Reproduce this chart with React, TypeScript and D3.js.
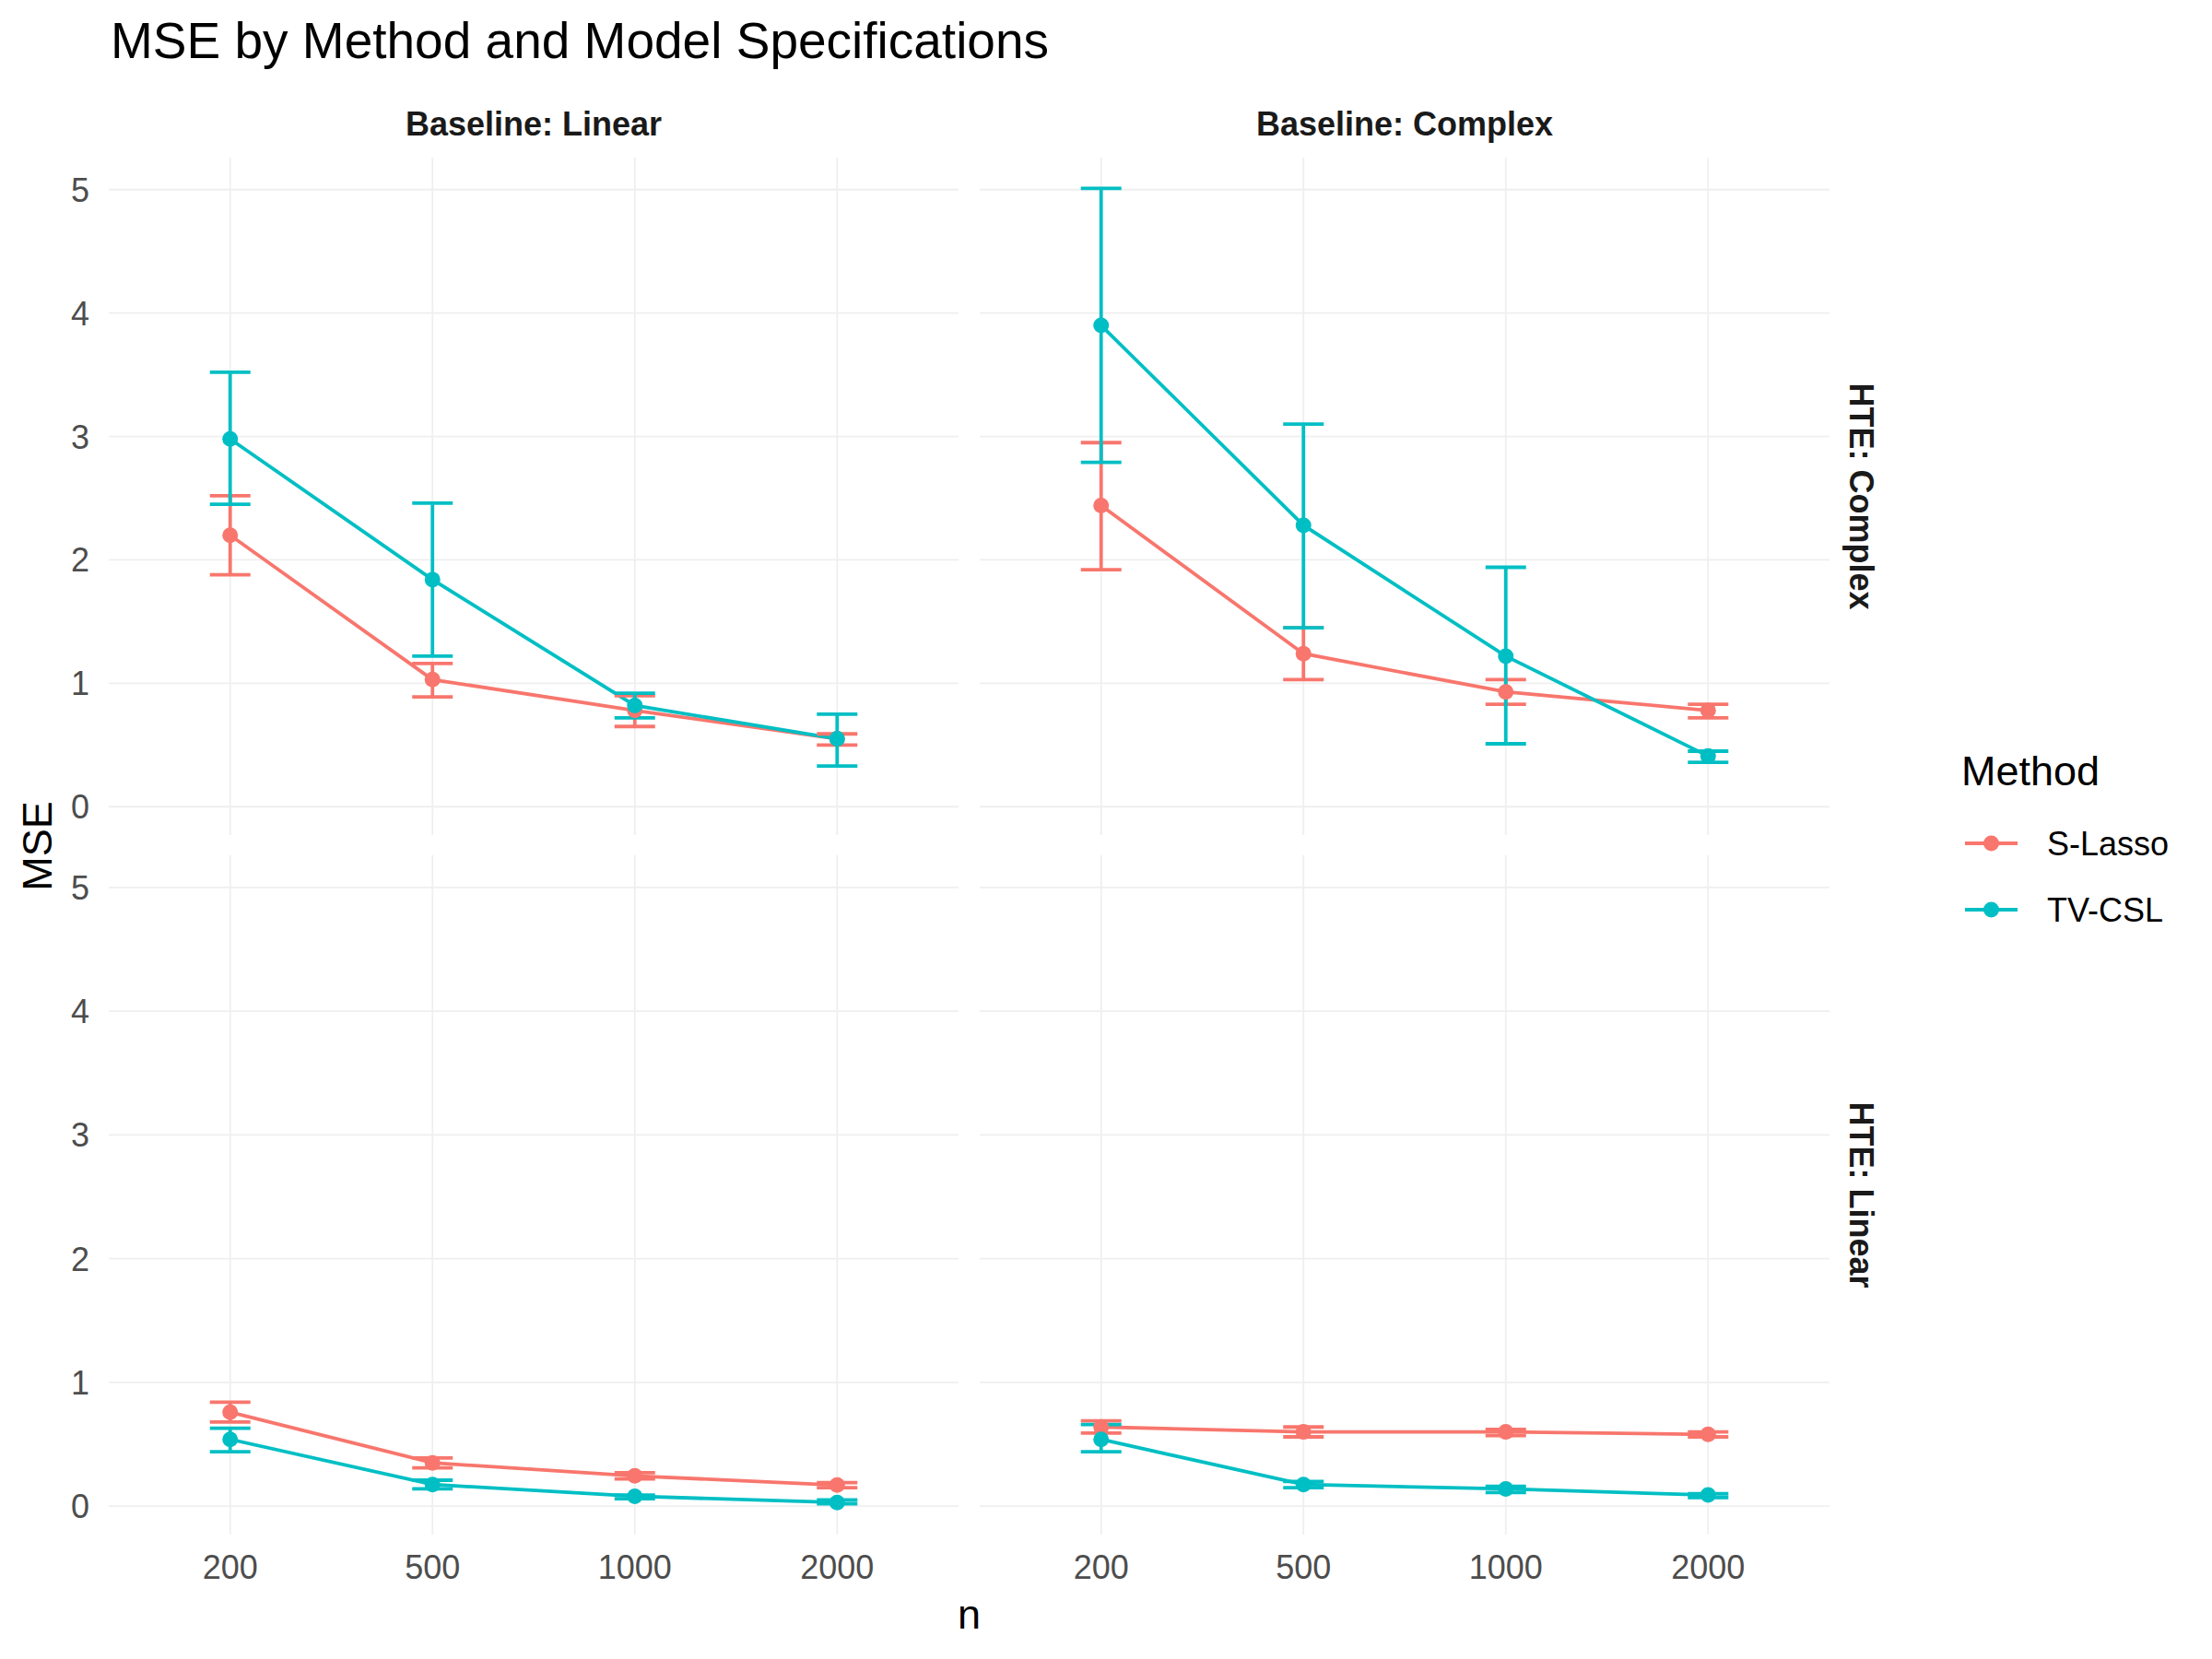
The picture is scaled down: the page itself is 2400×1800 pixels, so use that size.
import React from 'react';
import * as d3 from 'd3';

// facet labels and categories
const nLevels = ['200', '500', '1000', '2000'];
const baselineLabels = ['Baseline: Linear', 'Baseline: Complex'];
const hteLabels = ['HTE: Complex', 'HTE: Linear'];
const methods = ['S-Lasso', 'TV-CSL'];
const methodColors = ['#F8766D', '#00BFC4'];
const yTicks = [0, 1, 2, 3, 4, 5];

// HTE: Complex / Baseline: Linear
const sLassoCL = [2.2, 1.03, 0.78, 0.55];
const sLassoCLLo = [1.88, 0.89, 0.65, 0.5];
const sLassoCLHi = [2.52, 1.16, 0.9, 0.59];
const tvCslCL = [2.98, 1.84, 0.82, 0.55];
const tvCslCLLo = [2.45, 1.22, 0.72, 0.33];
const tvCslCLHi = [3.52, 2.46, 0.92, 0.75];

// HTE: Complex / Baseline: Complex
const sLassoCC = [2.44, 1.24, 0.93, 0.78];
const sLassoCCLo = [1.92, 1.03, 0.83, 0.72];
const sLassoCCHi = [2.95, 1.45, 1.03, 0.83];
const tvCslCC = [3.9, 2.28, 1.22, 0.41];
const tvCslCCLo = [2.79, 1.45, 0.51, 0.36];
const tvCslCCHi = [5.01, 3.1, 1.94, 0.45];

// HTE: Linear / Baseline: Linear
const sLassoLL = [0.76, 0.35, 0.245, 0.17];
const sLassoLLLo = [0.68, 0.31, 0.22, 0.15];
const sLassoLLHi = [0.84, 0.39, 0.27, 0.19];
const tvCslLL = [0.54, 0.175, 0.08, 0.03];
const tvCslLLLo = [0.44, 0.14, 0.06, 0.02];
const tvCslLLHi = [0.63, 0.21, 0.09, 0.05];

// HTE: Linear / Baseline: Complex
const sLassoLC = [0.64, 0.6, 0.6, 0.58];
const sLassoLCLo = [0.59, 0.56, 0.57, 0.56];
const sLassoLCHi = [0.69, 0.64, 0.62, 0.6];
const tvCslLC = [0.54, 0.175, 0.14, 0.09];
const tvCslLCLo = [0.44, 0.15, 0.11, 0.07];
const tvCslLCHi = [0.66, 0.2, 0.16, 0.1];

type Series = { mean: number[]; lo: number[]; hi: number[] };

// panels[row][col][method]
const panels: Series[][][] = [
  [
    [
      { mean: sLassoCL, lo: sLassoCLLo, hi: sLassoCLHi },
      { mean: tvCslCL, lo: tvCslCLLo, hi: tvCslCLHi },
    ],
    [
      { mean: sLassoCC, lo: sLassoCCLo, hi: sLassoCCHi },
      { mean: tvCslCC, lo: tvCslCCLo, hi: tvCslCCHi },
    ],
  ],
  [
    [
      { mean: sLassoLL, lo: sLassoLLLo, hi: sLassoLLHi },
      { mean: tvCslLL, lo: tvCslLLLo, hi: tvCslLLHi },
    ],
    [
      { mean: sLassoLC, lo: sLassoLCLo, hi: sLassoLCHi },
      { mean: tvCslLC, lo: tvCslLCLo, hi: tvCslLCHi },
    ],
  ],
];

const W = 2400;
const H = 1800;
const FONT = '"Liberation Sans", Arial, Helvetica, sans-serif';

const colRanges: [number, number][] = [
  [118, 1040],
  [1063, 1985],
];
const rowRanges: [number, number][] = [
  [171, 906],
  [928, 1665],
];

export default function App() {
  const all = panels.flat(2).flatMap((s) => [...s.lo, ...s.hi]);
  const [ymin, ymax] = d3.extent(all) as [number, number];
  const pad = (ymax - ymin) * 0.05;
  const yDomain: [number, number] = [ymin - pad, ymax + pad];

  const gridColor = '#efefef';
  const capHalf = 22;

  return (
    <svg
      width={W}
      height={H}
      style={{ position: 'absolute', left: 0, top: 0, background: '#fff' }}
      fontFamily={FONT}
    >
      <rect width={W} height={H} fill="#fff" />
      <text x={120} y={63} fontSize={55} fill="#000">
        MSE by Method and Model Specifications
      </text>

      {rowRanges.map((rr, ri) => {
        const y = d3.scaleLinear().domain(yDomain).range([rr[1], rr[0]]);
        return colRanges.map((cr, ci) => {
          const x = d3.scalePoint<string>().domain(nLevels).range(cr).padding(0.6);
          const line = d3
            .line<number>()
            .x((_, i) => x(nLevels[i])!)
            .y((d) => y(d));
          const series = panels[ri][ci];
          return (
            <g key={`${ri}-${ci}`}>
              {yTicks.map((t) => (
                <line key={'gy' + t} x1={cr[0]} x2={cr[1]} y1={y(t)} y2={y(t)} stroke={gridColor} strokeWidth={1.8} />
              ))}
              {nLevels.map((n) => (
                <line key={'gx' + n} x1={x(n)} x2={x(n)} y1={rr[0]} y2={rr[1]} stroke={gridColor} strokeWidth={1.8} />
              ))}
              {series.map((s, mi) => (
                <path key={'l' + mi} d={line(s.mean) || ''} fill="none" stroke={methodColors[mi]} strokeWidth={3.8} />
              ))}
              {series.map((s, mi) =>
                s.mean.map((v, i) => {
                  const cx = x(nLevels[i])!;
                  return (
                    <g key={`e${mi}-${i}`} stroke={methodColors[mi]} strokeWidth={3.8} fill="none">
                      <line x1={cx} x2={cx} y1={y(s.lo[i])} y2={y(s.hi[i])} />
                      <line x1={cx - capHalf} x2={cx + capHalf} y1={y(s.lo[i])} y2={y(s.lo[i])} />
                      <line x1={cx - capHalf} x2={cx + capHalf} y1={y(s.hi[i])} y2={y(s.hi[i])} />
                    </g>
                  );
                })
              )}
              {series.map((s, mi) =>
                s.mean.map((v, i) => (
                  <circle key={`p${mi}-${i}`} cx={x(nLevels[i])} cy={y(v)} r={8.5} fill={methodColors[mi]} />
                ))
              )}
              {ci === 0 &&
                yTicks.map((t) => (
                  <text key={'ty' + t} x={97} y={y(t)} dy="0.36em" textAnchor="end" fontSize={36} fill="#4d4d4d">
                    {t}
                  </text>
                ))}
              {ri === 1 &&
                nLevels.map((n) => (
                  <text key={'tx' + n} x={x(n)} y={1713} textAnchor="middle" fontSize={36} fill="#4d4d4d">
                    {n}
                  </text>
                ))}
              {ri === 0 && (
                <text
                  x={(cr[0] + cr[1]) / 2}
                  y={147}
                  textAnchor="middle"
                  fontSize={36}
                  fontWeight="bold"
                  fill="#1a1a1a"
                >
                  {baselineLabels[ci]}
                </text>
              )}
              {ci === 1 && (
                <text
                  transform={`translate(2007,${(rr[0] + rr[1]) / 2}) rotate(90)`}
                  textAnchor="middle"
                  fontSize={36}
                  fontWeight="bold"
                  fill="#1a1a1a"
                >
                  {hteLabels[ri]}
                </text>
              )}
            </g>
          );
        });
      })}

      <text x={(colRanges[0][0] + colRanges[1][1]) / 2} y={1767} textAnchor="middle" fontSize={45} fill="#000">
        n
      </text>
      <text transform={`translate(56,${(rowRanges[0][0] + rowRanges[1][1]) / 2}) rotate(-90)`} textAnchor="middle" fontSize={45} fill="#000">
        MSE
      </text>

      <text x={2128} y={852} fontSize={45} fill="#000">
        Method
      </text>
      {methods.map((m, i) => {
        const ly = 915 + i * 72;
        return (
          <g key={m}>
            <line x1={2132} x2={2189} y1={ly} y2={ly} stroke={methodColors[i]} strokeWidth={3.8} />
            <circle cx={2160.5} cy={ly} r={8.5} fill={methodColors[i]} />
            <text x={2221} y={ly} dy="0.36em" fontSize={36} fill="#000">
              {m}
            </text>
          </g>
        );
      })}
    </svg>
  );
}
